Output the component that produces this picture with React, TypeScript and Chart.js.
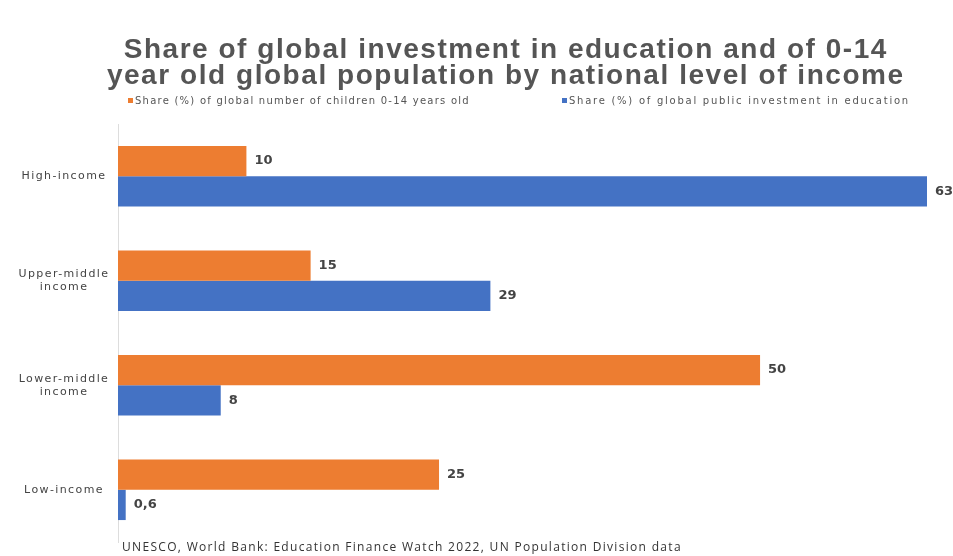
import React, { useEffect, useRef } from "react";
import { Chart, registerables } from "chart.js";

Chart.register(...registerables);

const categories: string[][] = [
  ["High-income"],
  ["Upper-middle", "income"],
  ["Lower-middle", "income"],
  ["Low-income"],
];
const childrenShare = [10, 15, 50, 25];
const investmentShare = [63, 29, 8, 0.6];
const childrenLabel = "Share (%) of global number of children 0-14 years old";
const investmentLabel = "Share (%) of global public investment in education";
const titleLines = [
  "Share of global investment in education and of 0-14",
  "year old global population by national level of income",
];
const sourceText = "UNESCO, World Bank: Education Finance Watch 2022, UN Population Division data";

const ORANGE = "#ED7D31";
const BLUE = "#4472C4";

function fitText(
  ctx: CanvasRenderingContext2D,
  text: string,
  x: number,
  y: number,
  width: number,
  align: "left" | "center"
) {
  (ctx as any).letterSpacing = "0px";
  const w = ctx.measureText(text).width;
  const sp = Math.max(0, (width - w) / Math.max(1, text.length));
  (ctx as any).letterSpacing = sp.toFixed(2) + "px";
  const total = ctx.measureText(text).width;
  ctx.textAlign = "left";
  const sx = align === "center" ? x - total / 2 + sp / 2 : x;
  ctx.fillText(text, sx, y);
  (ctx as any).letterSpacing = "0px";
}

const decorPlugin = {
  id: "decor",
  afterDraw(chart: any) {
    const ctx = chart.ctx as CanvasRenderingContext2D;
    ctx.save();
    ctx.textBaseline = "middle";
    // title
    ctx.fillStyle = "#555555";
    ctx.font = "bold 28px 'Liberation Sans', Arial, sans-serif";
    fitText(ctx, titleLines[0], 505, 50, 764, "center");
    fitText(ctx, titleLines[1], 505, 76, 798, "center");

    // legend
    ctx.font = "10px 'DejaVu Sans', sans-serif";
    ctx.fillStyle = ORANGE;
    ctx.fillRect(128, 98, 5, 5);
    ctx.fillStyle = "#555555";
    fitText(ctx, childrenLabel, 135, 101, 335, "left");
    ctx.fillStyle = BLUE;
    ctx.fillRect(562, 98, 5, 5);
    ctx.fillStyle = "#555555";
    fitText(ctx, investmentLabel, 569, 101, 341, "left");

    // category labels on the y axis
    const yScale = chart.scales.y;
    ctx.font = "11px 'DejaVu Sans', sans-serif";
    ctx.fillStyle = "#444444";
    const labels = chart.data.labels as string[][];
    labels.forEach((lines, i) => {
      const cy = yScale.getPixelForTick(i);
      const n = lines.length;
      lines.forEach((ln, k) => {
        const y = cy + (k - (n - 1) / 2) * 13;
        (ctx as any).letterSpacing = "1.4px";
        const w = ctx.measureText(ln).width;
        ctx.textAlign = "left";
        ctx.fillText(ln, 64 - w / 2, y);
        (ctx as any).letterSpacing = "0px";
      });
    });

    // data labels
    ctx.font = "bold 13px 'DejaVu Sans', sans-serif";
    ctx.fillStyle = "#444444";
    ctx.textAlign = "left";
    chart.data.datasets.forEach((ds: any, di: number) => {
      const meta = chart.getDatasetMeta(di);
      meta.data.forEach((bar: any, i: number) => {
        const v = ds.data[i];
        const txt = String(v).replace(".", ",");
        ctx.fillText(txt, bar.x + 8, bar.y);
      });
    });

    // source
    ctx.font = "12px 'Open Sans', sans-serif";
    ctx.fillStyle = "#333333";
    fitText(ctx, sourceText, 122, 548, 560, "left");
    ctx.restore();
  },
};

export default function App() {
  const ref = useRef<HTMLCanvasElement | null>(null);
  useEffect(() => {
    if (!ref.current) return;
    const chart = new Chart(ref.current, {
      type: "bar",
      data: {
        labels: categories as any,
        datasets: [
          {
            label: childrenLabel,
            data: childrenShare,
            backgroundColor: ORANGE,
            categoryPercentage: 0.58,
            barPercentage: 1,
          },
          {
            label: investmentLabel,
            data: investmentShare,
            backgroundColor: BLUE,
            categoryPercentage: 0.58,
            barPercentage: 1,
          },
        ],
      },
      options: {
        indexAxis: "y",
        responsive: false,
        animation: false,
        maintainAspectRatio: false,
        layout: { padding: { top: 124, bottom: 14, left: 0, right: 26 } },
        plugins: {
          legend: { display: false },
          title: { display: false },
          tooltip: { enabled: false },
        },
        scales: {
          x: {
            display: false,
            min: 0,
            max: 63,
          },
          y: {
            grid: { display: false },
            border: { display: true, color: "#dddddd", width: 1 },
            afterFit(scale: any) {
              scale.width = 118;
            },
            ticks: { display: false },
          },
        },
      },
      plugins: [decorPlugin],
    });
    return () => chart.destroy();
  }, []);
  return (
    <div style={{ position: "fixed", left: 0, top: 0, width: 953, height: 556, background: "#fff" }}>
      <canvas ref={ref} width={953} height={556} style={{ width: 953, height: 556 }} />
    </div>
  );
}
